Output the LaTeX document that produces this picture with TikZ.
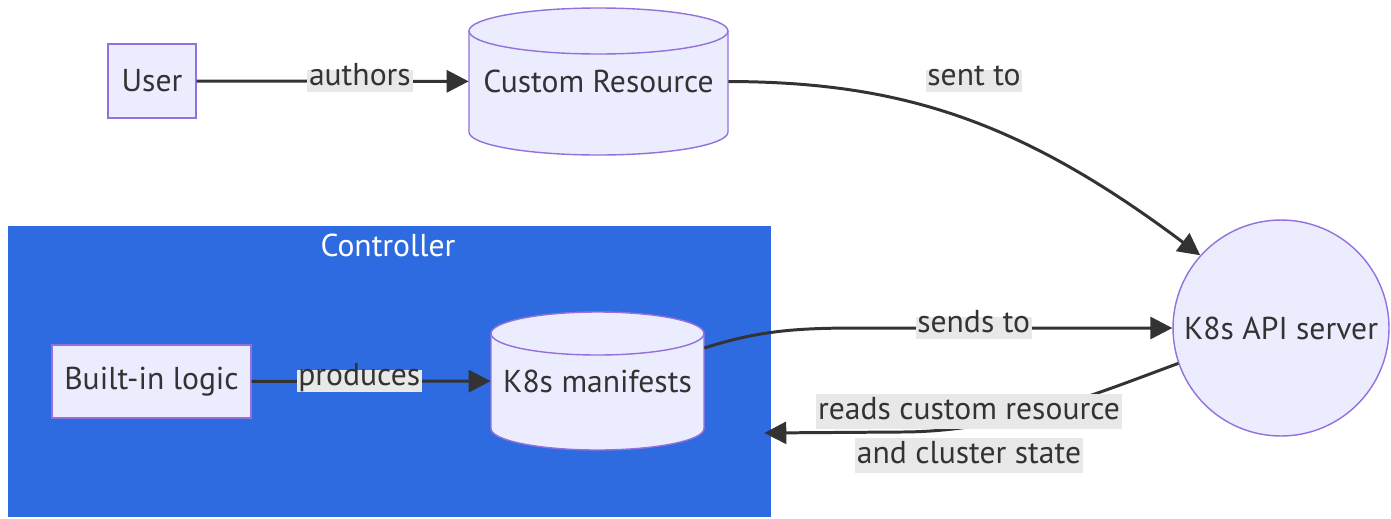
\documentclass[tikz,border=0pt]{standalone}
\usepackage{fontspec}
\setmainfont{PT Sans}
\usetikzlibrary{arrows.meta,positioning,calc}

\definecolor{nodefill}{HTML}{ECECFF}
\definecolor{nodeline}{HTML}{9370DB}
\definecolor{edgeink}{HTML}{333333}
\definecolor{lblgray}{HTML}{E8E8E8}
\definecolor{ctrlblue}{HTML}{2F6BE0}

\newcommand{\lblfont}{\fontsize{18}{25}\selectfont}
\newcommand{\hl}[1]{{\setlength{\fboxsep}{1.2pt}\colorbox{lblgray}{\rule[-0.25em]{0pt}{1em}#1}}}
% cylinder: centre x, top y, half width, height, cap radius
\newcommand{\dbcyl}[5]{%
  \path[dbfill] ({#1-#3},{#2-#5}) -- ({#1-#3},{#2-#4+#5})
    arc[start angle=180, end angle=360, x radius={#3*0.02cm}, y radius={#5*0.02cm}]
    -- ({#1+#3},{#2-#5})
    arc[start angle=0, end angle=180, x radius={#3*0.02cm}, y radius={#5*0.02cm}] -- cycle;
  \draw[dbline] ({#1-#3},{#2-#5}) -- ({#1-#3},{#2-#4+#5})
    arc[start angle=180, end angle=360, x radius={#3*0.02cm}, y radius={#5*0.02cm}]
    -- ({#1+#3},{#2-#5});
  \draw[dbline] (#1,{#2-#5}) ellipse[x radius={#3*0.02cm}, y radius={#5*0.02cm}];
}

\begin{document}
\begin{tikzpicture}[
  x=0.02cm, y=0.02cm,
  % --- nodes ---
  box/.style={draw=nodeline, fill=nodefill, line width=0.8pt, text=edgeink,
    font=\lblfont, inner sep=0pt},
  dbtext/.style={text=edgeink, font=\lblfont, inner sep=0pt},
  dbfill/.style={fill=nodefill},
  dbline/.style={draw=nodeline, line width=0.8pt},
  % --- controller group ---
  cluster/.style={fill=ctrlblue, draw=none, inner sep=0pt},
  ctitle/.style={text=white, font=\lblfont, inner sep=0pt},
  % --- labels ---
  lbl/.style={fill=lblgray, text=edgeink, font=\lblfont, inner xsep=1pt,
    inner ysep=1.2pt, text height=0.75em, text depth=0.25em},
  lbl2/.style={text=edgeink, font=\lblfont, align=center, inner sep=0pt},
  % --- arrows ---
  arr/.style={-{Triangle[length=0.44cm, width=0.44cm]}, line width=1.7pt, draw=edgeink},
]
\useasboundingbox (0,0) rectangle (1391,-518);

% ===================== CONTROLLER =====================

\node[cluster, minimum width=15.26cm, minimum height=5.82cm] (ctrl) at (389.5,-371.5) {};
\node[ctitle] (ctrlname) at (388,-245) {Controller};

% ===================== NODES =====================

\node[box, minimum width=1.76cm, minimum height=1.48cm] (user) at (152,-81) {User};

\dbcyl{598.5}{-8}{129.5}{147}{23}
\node[dbtext, minimum width=5.18cm, minimum height=2.94cm] (cr) at (598.5,-81.5) {Custom Resource};

\node[box, minimum width=3.98cm, minimum height=1.46cm] (bil) at (151.5,-381.5) {Built-in logic};

\dbcyl{597.5}{-312}{106.5}{138}{21.5}
\node[dbtext, minimum width=4.26cm, minimum height=2.76cm] (km) at (597.5,-381) {K8s manifests};

\node[box, circle, minimum size=4.32cm] (api) at (1281,-328) {K8s API server};

\coordinate (readsend) at ([xshift=-0.14cm, yshift=-1.23cm]ctrl.east);

% ===================== ARROWS =====================

\draw[arr] (user) -- node[lbl, pos=0.6] (lauth) {authors} (cr);
\draw[arr] (bil) -- node[lbl, pos=0.45] (lprod) {produces} (km);

\draw[arr] (cr.east) .. controls (900,-82) and (1020,-120) .. (api.138);
\node[lbl] (lsent) at (974,-81) {sent to};

\draw[arr] ([yshift=0.66cm]km.east) .. controls (760,-330) and (800,-328) .. (860,-328)
  -- node[lbl, pos=0.364] (lsends) {sends to} (api);

\draw[arr] (api.199) .. controls (1080,-400) and (1000,-432) .. (900,-432) -- (readsend);
\node[lbl2] (lreads) at (969,-433.5) {\hl{reads custom resource}\\\hl{and cluster state}};

\end{tikzpicture}
\end{document}
